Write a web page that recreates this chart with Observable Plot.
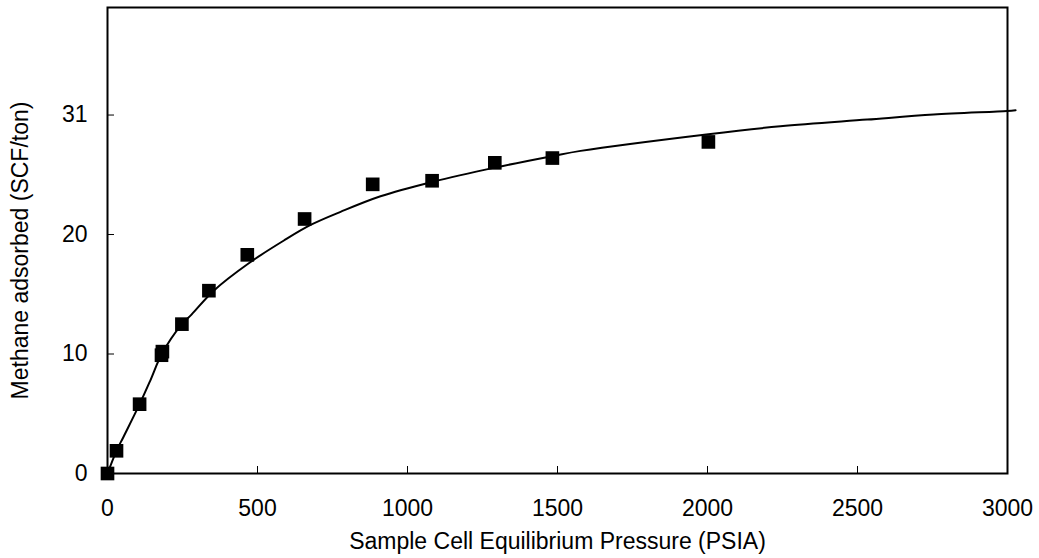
<!DOCTYPE html>
<html>
<head>
<meta charset="utf-8">
<script src="https://cdn.jsdelivr.net/npm/d3@7"></script>
<script src="https://cdn.jsdelivr.net/npm/@observablehq/plot@0.6"></script>
<style>
  html, body { margin: 0; padding: 0; background: #fff; }
  #chart { width: 1039px; height: 558px; }
</style>
</head>
<body>
<div id="chart"></div>
<script>
// Measured points (pressure PSIA, methane adsorbed SCF/ton)
const pointPressure = [0, 30, 107, 180, 183, 248, 338, 466, 657, 884, 1082, 1291, 1483, 2003];
const pointAdsorbed = [0, 1.9, 5.8, 9.9, 10.2, 12.5, 15.3, 18.3, 21.3, 24.2, 24.5, 26.0, 26.4, 27.75];

// Fitted curve
const curvePressure = [0, 30, 54, 107, 143, 181, 248, 280, 354, 471, 588, 677, 777, 910, 1082, 1291, 1483, 1577, 2003, 2243, 2532, 2754, 2999, 3027];
const curveAdsorbed = [0, 1.9, 3.1, 5.8, 7.8, 10.0, 12.5, 13.3, 15.3, 17.6, 19.5, 20.8, 21.9, 23.2, 24.4, 25.6, 26.56, 27.0, 28.4, 29.06, 29.62, 30.04, 30.34, 30.4];

// Axis ticks
const xTicks = [0, 500, 1000, 1500, 2000, 2500, 3000];
const yTicks = [0, 10, 20, 30];
const yTickLabels = ["0", "10", "20", "31"];

const xLabel = "Sample Cell Equilibrium Pressure (PSIA)";
const yLabel = "Methane adsorbed (SCF/ton)";

const points = pointPressure.map((p, i) => ({p, v: pointAdsorbed[i]}));
const curve = curvePressure.map((p, i) => ({p, v: curveAdsorbed[i]}));

const W = 1039, H = 558;
const mL = 107, mR = 32, mT = 7, mB = 85;
const plotW = W - mL - mR, plotH = H - mT - mB;
const FS = 23;

const chart = Plot.plot({
  width: W,
  height: H,
  marginLeft: mL,
  marginRight: mR,
  marginTop: mT,
  marginBottom: mB,
  style: {fontFamily: "'Liberation Sans', Arial, sans-serif", fontSize: FS + "px", color: "#000", background: "#fff"},
  x: {domain: [0, 3000]},
  y: {domain: [0, 39]},
  marks: [
    Plot.axisX({ticks: xTicks, tickSize: 0, tickPadding: 26, label: null, fontSize: FS, tickFormat: d => String(d)}),
    Plot.axisY({ticks: yTicks, tickSize: 0, tickPadding: 20, label: null, fontSize: FS,
      tickFormat: d => yTickLabels[yTicks.indexOf(d)]}),
    Plot.tickX(xTicks.slice(0, -1), {x: d => d, insetTop: plotH - 7, stroke: "#000", strokeWidth: 1}),
    Plot.tickY(yTicks.slice(1), {y: d => d, insetRight: plotW - 7, stroke: "#000", strokeWidth: 1}),
    Plot.line(curve, {x: "p", y: "v", curve: "catmull-rom", stroke: "#000", strokeWidth: 2}),
    Plot.dot(points, {x: "p", y: "v", symbol: "square", r: 7.7, fill: "#000", stroke: "none"}),
    Plot.frame({stroke: "#000", strokeWidth: 2}),
    Plot.text([xLabel], {frameAnchor: "bottom", textAnchor: "middle", dy: 75, fontSize: FS, fill: "#000"}),
    Plot.text([yLabel], {frameAnchor: "left", textAnchor: "middle", dx: -87, dy: 10, rotate: -90, fontSize: FS, fill: "#000"})
  ]
});
document.getElementById("chart").appendChild(chart);
</script>
</body>
</html>
